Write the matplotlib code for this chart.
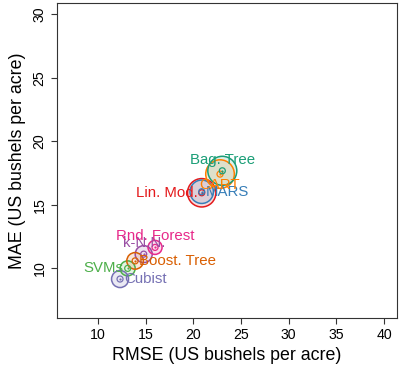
import numpy as np
import matplotlib
matplotlib.use("Agg")
import matplotlib.pyplot as plt

plt.rcParams['font.family'] = ['Liberation Sans', 'DejaVu Sans']

# model results (RMSE, MAE) and spread shown as circle radius (px)
models = ["Lin. Mod.", "MARS", "SVMs", "k-N.N.", "CART",
          "Bag. Tree", "Boost. Tree", "Cubist", "Rnd. Forest"]
rmse = [20.88, 20.88, 13.12, 14.8, 22.80, 23.04, 13.9, 12.32, 15.99]
mae = [15.96, 16.04, 10.01, 11.13, 17.43, 17.69, 10.6, 9.17, 11.66]
spread = [14.2, 11.7, 7.5, 8.5, 14.3, 14.5, 8.3, 8.5, 7.0]
colors = ["#E41A1C", "#377EB8", "#4DAF4A", "#984EA3", "#FF7F00",
          "#1B9E77", "#D95F02", "#7570B3", "#E7298A"]
# label side: 1 below, 2 left, 3 above, 4 right (like R's pos)
label_pos = [2, 4, 2, 3, 1, 3, 4, 4, 3]

fig = plt.figure(figsize=(3.99, 3.69), dpi=100)
ax = fig.add_axes([56.7 / 399, 1 - 318.3 / 369, 340 / 399, 315.6 / 369])

px = 72 / 100  # points per pixel
for i in range(len(models)):
    d = 2 * spread[i] * px
    ax.scatter(rmse[i], mae[i], s=d ** 2, facecolor=colors[i], alpha=0.15,
               edgecolor='none', zorder=2)
    ax.scatter(rmse[i], mae[i], s=d ** 2, facecolor='none',
               edgecolor=colors[i], linewidth=1.1, zorder=3)
    ax.scatter(rmse[i], mae[i], s=(6 * px) ** 2, facecolor='none',
               edgecolor=colors[i], linewidth=0.9, zorder=4)
    ax.scatter(rmse[i], mae[i], s=(2.2 * px) ** 2, color=colors[i],
               linewidth=0, zorder=4)

for i in range(len(models)):
    p = label_pos[i]
    if p == 1:
        off, ha, va = (0, -3), 'center', 'top'
    elif p == 2:
        off, ha, va = (-3, 0), 'right', 'center'
    elif p == 3:
        off, ha, va = (0, 3), 'center', 'bottom'
    else:
        off, ha, va = (3, 0), 'left', 'center'
    ax.annotate(models[i], (rmse[i], mae[i]), xytext=off,
                textcoords='offset points', ha=ha, va=va,
                color=colors[i], fontsize=10.8, zorder=5)

ax.set_xlim(5.68, 41.32)
ax.set_ylim(6.08, 30.92)
ax.set_xticks([10, 15, 20, 25, 30, 35, 40])
ax.set_yticks([10, 15, 20, 25, 30])
ax.tick_params(direction='out', length=4.3, width=0.8, labelsize=10.2,
               pad=3, color='#333333')
ax.tick_params(axis='y', labelrotation=90)
for lab in ax.get_yticklabels():
    lab.set_va('center')
for sp in ax.spines.values():
    sp.set_linewidth(0.8)
    sp.set_color('#333333')

ax.set_xlabel("RMSE (US bushels per acre)", fontsize=12.8, labelpad=3)
ax.set_ylabel("MAE (US bushels per acre)", fontsize=12.8, labelpad=5)

fig.savefig("out.png", dpi=100)
